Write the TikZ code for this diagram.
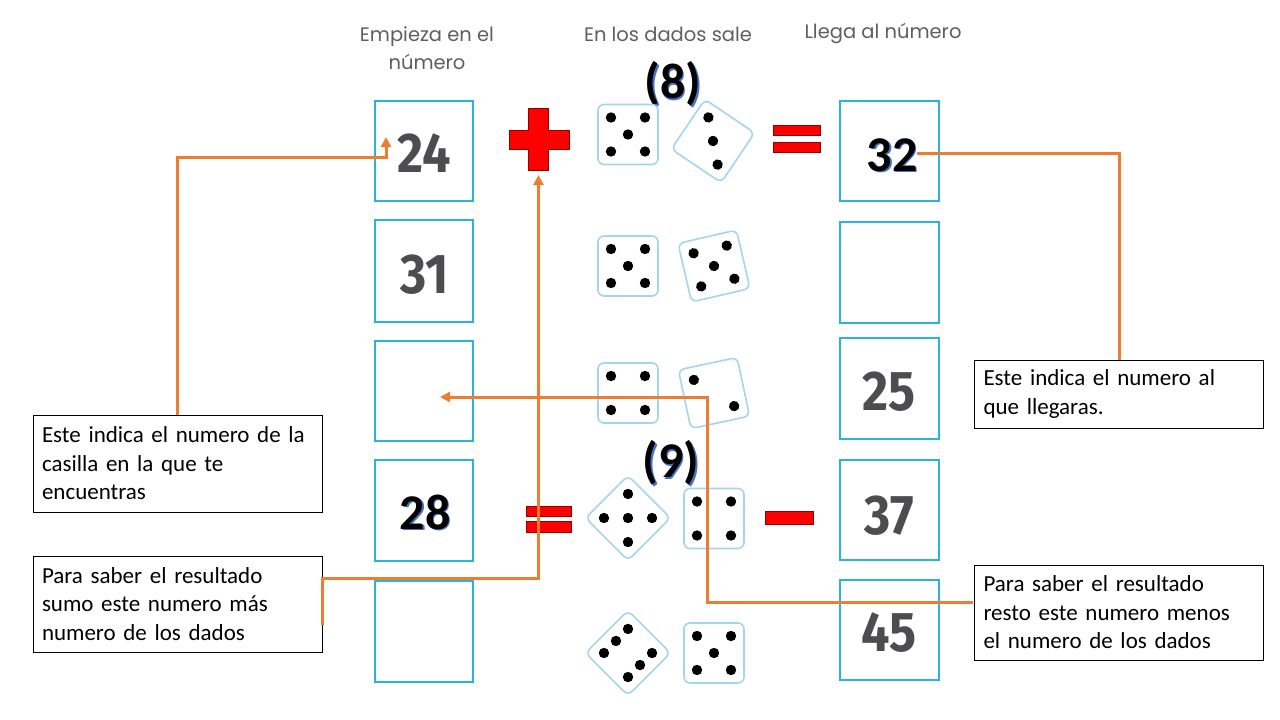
\documentclass[tikz,border=0pt]{standalone}
\usepackage{fontspec}
\setmainfont{Carlito}
\newfontfamily\hdrfont{Poppins}
\newfontfamily\numfont{Fira Sans}
\usetikzlibrary{arrows.meta,calc}
\hyphenpenalty=10000
\exhyphenpenalty=10000
\definecolor{boxblue}{RGB}{41,182,214}
\definecolor{dieblue}{RGB}{165,212,236}
\definecolor{orng}{RGB}{237,125,49}
\definecolor{numgray}{RGB}{77,77,79}
\definecolor{hdrgray}{RGB}{95,95,95}
\definecolor{shblue}{RGB}{68,114,196}
\definecolor{opred}{RGB}{255,0,0}
\tikzset{
  nbox/.style={draw=boxblue, line width=2.5pt, minimum width=98pt, minimum height=100pt, inner sep=0pt},
  gnum/.style={text=numgray, font=\numfont\bfseries\fontsize{56}{60}\selectfont, inner sep=0pt},
  onum/.style={font=\bfseries\fontsize{50}{54}\selectfont, inner sep=0pt},
  hdr/.style={text=hdrgray, font=\hdrfont\fontsize{19.5}{28}\selectfont, align=center, inner sep=0pt},
  tbox/.style={draw=black, line width=1pt, fill=white, text width=271pt, inner xsep=9pt, inner ysep=0pt, align=left, font=\fontsize{23}{28.5}\selectfont},
  diebox/.style={draw=dieblue, line width=1.6pt, fill=white, rounded corners=6pt},
  opsym/.style={fill=opred, draw=red!55!black, line width=0.5pt},
  conn/.style={draw=orng, line width=3pt},
  tip/.style={-{Triangle[length=10pt,width=10pt]}}
}
\newcommand\drawdie[4]{%
  \begin{scope}[shift={(#1,#2)},rotate=#3]
    \draw[diebox] (-30,-30) rectangle (30,30);
    \foreach \px/\py in {#4} {\fill[black] (\px,\py) circle (5.2);}
  \end{scope}}
\begin{document}
\begin{tikzpicture}[x=1pt,y=-1pt]
\fill[white] (0,0) rectangle (1280,720);
\useasboundingbox (0,0) rectangle (1280,720);

% headers
\node[hdr] (h1) at (427,48) {Empieza en el\\número};
\node[hdr] (h2) at (668,34) {En los dados sale};
\node[hdr] (h3) at (883,33.5) {Llega al número};

% left boxes
\node[nbox] (L1) at (424,151) {};
\node[nbox, minimum height=102pt] (L2) at (424,271) {};
\node[nbox] (L3) at (424,391) {};
\node[nbox, minimum height=101pt] (L4) at (424,510.5) {};
\node[nbox, minimum height=101pt] (L5) at (424,631.5) {};
% right boxes
\node[nbox, minimum width=99pt] (R1) at (889.5,151) {};
\node[nbox, minimum width=99pt, minimum height=101pt] (R2) at (889.5,272.5) {};
\node[nbox, minimum width=99pt, minimum height=101pt] (R3) at (889.5,388.5) {};
\node[nbox, minimum width=99pt] (R4) at (889.5,510) {};
\node[nbox, minimum width=99pt] (R5) at (889.5,630) {};

% gray numbers
\node[gnum] (n24) at (424,153.5) {\scalebox{0.9}[1]{24}};
\node[gnum] (n31) at (424.5,275) {\scalebox{0.9}[1]{31}};
\node[gnum] (n25) at (889,392) {\scalebox{0.9}[1]{25}};
\node[gnum] (n37) at (889,515.5) {\scalebox{0.9}[1]{37}};
\node[gnum] (n45) at (889,633) {\scalebox{0.9}[1]{45}};

% outlined numbers
\node[onum, text=shblue] (n28s) at (426.5,513.5) {28};
\node[onum, text=black] (n28) at (425,512) {28};
\node[onum, text=shblue] (n32s) at (893.5,156.5) {32};
\node[onum, text=black] (n32) at (892,155) {32};
\node[onum, text=shblue] (p8s) at (674.5,85.5) {(8)};
\node[onum, text=black] (p8) at (673,84) {(8)};
\node[onum, text=shblue] (p9s) at (672.5,464.5) {(9)};
\node[onum, text=black] (p9) at (671,463) {(9)};

% dice
\drawdie{628}{134.5}{0}{-17/-17,17/-17,0/0,-17/17,17/17}
\drawdie{713}{141}{-34}{-17/-17,0/0,17/17}
\drawdie{628}{266}{0}{-17/-17,17/-17,0/0,-17/17,17/17}
\drawdie{714}{266}{13}{-17/-17,17/-17,0/0,-17/17,17/17}
\drawdie{628}{393}{0}{-17/-17,17/-17,-17/17,17/17}
\drawdie{714}{393}{12}{-17/-17,17/17}
\drawdie{628}{518}{45}{-17/-17,17/-17,0/0,-17/17,17/17}
\drawdie{714}{518.5}{0}{-17/-17,17/-17,-17/17,17/17}
\drawdie{628}{653}{-45}{-17/-17,-17/0,-17/17,17/-17,17/0,17/17}
\drawdie{714}{653}{0}{-17/-17,17/-17,0/0,-17/17,17/17}

% operators
\path[opsym] (528.5,108) -- (548.5,108) -- (548.5,130) -- (569,130) -- (569,149) -- (548.5,149) -- (548.5,170) -- (528.5,170) -- (528.5,149) -- (509,149) -- (509,130) -- (528.5,130) -- cycle;
\coordinate (plusbot) at (538.5,175);
\path[opsym] (773,125) rectangle (820,135);
\path[opsym] (773,142) rectangle (820,152);
\path[opsym] (526,506) rectangle (571,516.5);
\path[opsym] (526,521.5) rectangle (571,532);
\path[opsym] (765,511.5) rectangle (813,524);

% text boxes
\node[tbox, minimum height=97pt] (t1) at (177.5,463.5) {Este indica el numero de la\\casilla en la que te\\encuentras};
\node[tbox, minimum height=96pt] (t2) at (177.5,604) {Para saber el resultado\\sumo este numero más\\numero de los dados};
\node[tbox, minimum height=68pt] (t3) at (1119,394) {Este indica el numero al\\que llegaras.};
\node[tbox, minimum height=95pt] (t4) at (1119,612.5) {Para saber el resultado\\resto este numero menos\\el numero de los dados};

% connectors
\coordinate (tip1) at (386,137);
\coordinate (k1) at (386,157);
\draw[conn,tip] (t1.north) |- (k1) -- (tip1);

\coordinate (s2) at (322,625);
\coordinate (k2) at (538.5,578);
\draw[conn,tip] (s2) |- (k2) -- (plusbot);

\coordinate (e3) at (917,153);
\draw[conn] (t3.north) |- (e3);

\coordinate (s4) at (973,602);
\coordinate (k4) at (707,397);
\coordinate (tip4) at (440,397);
\draw[conn,tip] (s4) -| (k4) -- (tip4);
\end{tikzpicture}
\end{document}
